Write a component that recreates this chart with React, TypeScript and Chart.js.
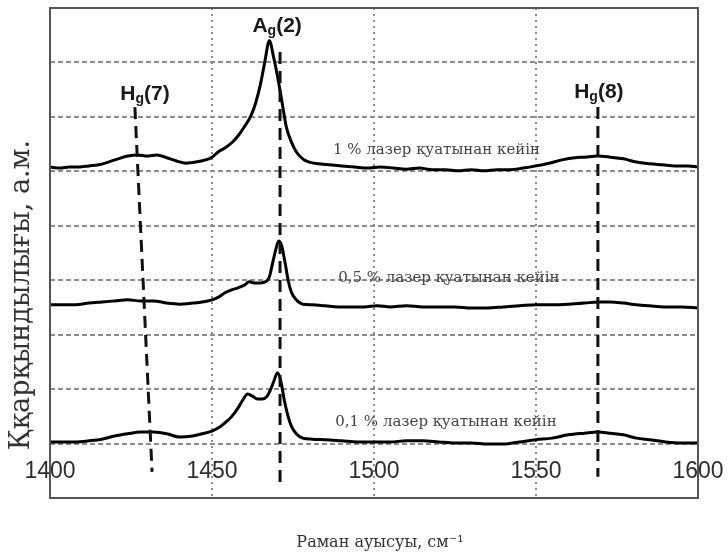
import React, { useEffect, useRef } from 'react';
import { Chart, registerables } from 'chart.js';

Chart.register(...registerables);

// ---- data ----
const xTicks = [1400, 1450, 1500, 1550, 1600];
const xTickLabels = ['1400', '1450', '1500', '1550', '1600'];

// 1 % laser power spectrum
const topX = [1400, 1403, 1406, 1409, 1412, 1415, 1418, 1421, 1424, 1427, 1430, 1433, 1436, 1439, 1442, 1445, 1448, 1450, 1452, 1454, 1456, 1458, 1460, 1462, 1463.5, 1465, 1466.3, 1467.7, 1469, 1470.3, 1471.5, 1473, 1474.5, 1476, 1478, 1480, 1483, 1486, 1490, 1494, 1498, 1502, 1506, 1510, 1514, 1518, 1522, 1526, 1530, 1534, 1538, 1542, 1546, 1550, 1554, 1558, 1562, 1565, 1569, 1573, 1577, 1581, 1585, 1589, 1593, 1597, 1600];
const topY = [6.08, 6.06, 6.08, 6.08, 6.10, 6.12, 6.17, 6.23, 6.28, 6.30, 6.28, 6.30, 6.25, 6.19, 6.15, 6.17, 6.21, 6.26, 6.36, 6.43, 6.52, 6.65, 6.82, 7.02, 7.26, 7.61, 8.01, 8.40, 8.10, 7.72, 7.31, 6.80, 6.54, 6.36, 6.23, 6.17, 6.14, 6.12, 6.10, 6.08, 6.06, 6.08, 6.06, 6.04, 6.06, 6.03, 6.03, 6.01, 6.03, 6.01, 6.03, 6.03, 6.06, 6.10, 6.15, 6.21, 6.25, 6.26, 6.28, 6.26, 6.23, 6.17, 6.14, 6.12, 6.10, 6.10, 6.08];

// 0,5 % laser power spectrum
const midX = [1400, 1404, 1408, 1412, 1416, 1420, 1424, 1428, 1432, 1436, 1440, 1444, 1447, 1450, 1452, 1454, 1456, 1458, 1460, 1461.5, 1463, 1465, 1466.5, 1467.7, 1468.8, 1469.8, 1470.6, 1471.5, 1472.5, 1473.5, 1474.5, 1476, 1478, 1481, 1485, 1489, 1493, 1497, 1501, 1505, 1510, 1515, 1520, 1525, 1530, 1535, 1540, 1545, 1550, 1555, 1560, 1565, 1569, 1573, 1577, 1581, 1585, 1590, 1595, 1600];
const midY = [3.55, 3.55, 3.55, 3.58, 3.60, 3.62, 3.64, 3.62, 3.62, 3.58, 3.56, 3.58, 3.60, 3.64, 3.69, 3.77, 3.82, 3.86, 3.91, 3.97, 3.95, 3.95, 3.97, 4.06, 4.34, 4.59, 4.72, 4.63, 4.34, 4.00, 3.78, 3.64, 3.56, 3.55, 3.53, 3.51, 3.51, 3.51, 3.53, 3.51, 3.53, 3.51, 3.51, 3.51, 3.49, 3.49, 3.51, 3.53, 3.55, 3.55, 3.56, 3.58, 3.60, 3.60, 3.58, 3.55, 3.53, 3.51, 3.51, 3.49];

// 0,1 % laser power spectrum
const lowX = [1400, 1404, 1408, 1412, 1416, 1420, 1424, 1428, 1432, 1436, 1440, 1444, 1447, 1450, 1452, 1454, 1456, 1458, 1459.5, 1461, 1462.5, 1464, 1465.5, 1467, 1468, 1469, 1470.2, 1471.3, 1472.3, 1473.3, 1474.5, 1476, 1478, 1481, 1485, 1490, 1495, 1500, 1505, 1510, 1515, 1520, 1525, 1530, 1535, 1540, 1545, 1550, 1555, 1560, 1565, 1569, 1573, 1577, 1581, 1585, 1590, 1595, 1600];
const lowY = [1.03, 1.03, 1.03, 1.05, 1.08, 1.14, 1.18, 1.21, 1.21, 1.18, 1.12, 1.14, 1.18, 1.23, 1.29, 1.38, 1.49, 1.65, 1.80, 1.91, 1.87, 1.82, 1.82, 1.87, 1.98, 2.13, 2.30, 2.13, 1.80, 1.54, 1.32, 1.18, 1.10, 1.08, 1.07, 1.05, 1.03, 1.03, 1.03, 1.05, 1.05, 1.03, 1.01, 1.01, 0.99, 0.99, 1.03, 1.07, 1.10, 1.16, 1.19, 1.21, 1.19, 1.16, 1.10, 1.07, 1.03, 1.01, 1.01];

// dashed mode markers
const hg7LineX = [1426.2, 1431.5];
const hg7LineY = [7.18, 0.48];
const ag2LineX = [1471.0, 1471.0];
const ag2LineY = [8.19, 0.29];
const hg8LineX = [1569.1, 1569.1];
const hg8LineY = [7.18, 0.39];

// text
const curveLabels = ['1 % лазер қуатынан кейін', '0,5 % лазер қуатынан кейін', '0,1 % лазер қуатынан кейін'];
const curveLabelX = [1519.3, 1523.1, 1522.2];
const curveLabelY = [6.39, 4.04, 1.40];

const peakNames = ['H', 'A', 'H'];
const peakSubs = ['g', 'g', 'g'];
const peakOrders = ['(7)', '(2)', '(8)'];
const peakLabelX = [1429.3, 1470.1, 1569.4];
const peakLabelY = [7.31, 8.56, 7.35];

const xTitle = 'Раман ауысуы, см⁻¹';
const yTitle = 'Ққарқындылығы, а.м.';

const pts = (xs: number[], ys: number[]) => xs.map((x, i) => ({ x, y: ys[i] }));

const decor = {
  id: 'decor',
  afterDatasetsDraw(chart: any) {
    const { ctx, chartArea: ca, scales } = chart;
    const x = scales.x;
    const y = scales.y;
    ctx.save();
    // frame
    ctx.setLineDash([]);
    ctx.strokeStyle = '#555';
    ctx.lineWidth = 2;
    ctx.strokeRect(ca.left, ca.top, ca.right - ca.left, ca.bottom - ca.top);

    // tick labels (inside the plot)
    ctx.font = '23px "Liberation Sans", Arial, sans-serif';
    ctx.fillStyle = '#2e2e2e';
    ctx.textAlign = 'center';
    ctx.textBaseline = 'middle';
    xTicks.forEach((v, i) => {
      ctx.fillText(xTickLabels[i], x.getPixelForValue(v), ca.bottom - 26);
    });

    // curve labels
    ctx.font = '15px "DejaVu Serif", serif';
    ctx.fillStyle = '#444';
    curveLabels.forEach((t, i) => {
      ctx.fillText(t, x.getPixelForValue(curveLabelX[i]), y.getPixelForValue(curveLabelY[i]));
    });

    // peak labels
    const mainFont = 'bold 21px "Liberation Sans", Arial, sans-serif';
    const subFont = 'bold 14px "Liberation Sans", Arial, sans-serif';
    ctx.fillStyle = '#1a1a1a';
    ctx.textAlign = 'left';
    ctx.textBaseline = 'alphabetic';
    peakNames.forEach((n, i) => {
      ctx.font = mainFont;
      const w1 = ctx.measureText(n).width;
      const w3 = ctx.measureText(peakOrders[i]).width;
      ctx.font = subFont;
      const w2 = ctx.measureText(peakSubs[i]).width;
      let px = x.getPixelForValue(peakLabelX[i]) - (w1 + w2 + w3) / 2;
      const py = y.getPixelForValue(peakLabelY[i]);
      ctx.font = mainFont;
      ctx.fillText(n, px, py);
      px += w1;
      ctx.font = subFont;
      ctx.fillText(peakSubs[i], px, py + 3);
      px += w2;
      ctx.font = mainFont;
      ctx.fillText(peakOrders[i], px, py);
    });

    // axis titles
    ctx.fillStyle = '#333';
    ctx.textAlign = 'center';
    ctx.textBaseline = 'middle';
    ctx.font = '16px "DejaVu Serif", serif';
    ctx.fillText(xTitle, (ca.left + ca.right) / 2 + 6, ca.bottom + 45);

    ctx.translate(22, (ca.top + ca.bottom) / 2 + 42);
    ctx.rotate(-Math.PI / 2);
    ctx.font = '27px "DejaVu Serif", serif';
    ctx.fillText(yTitle, 0, 0);
    ctx.restore();
  },
};

export default function App() {
  const ref = useRef<HTMLCanvasElement | null>(null);
  useEffect(() => {
    if (!ref.current) return;
    const lineDs = (xs: number[], ys: number[]) => ({
      data: pts(xs, ys),
      borderColor: '#000',
      borderWidth: 3,
      pointRadius: 0,
      fill: false,
      cubicInterpolationMode: 'monotone' as const,
    });
    const dashDs = (xs: number[], ys: number[]) => ({
      data: pts(xs, ys),
      borderColor: '#111',
      borderWidth: 3,
      borderDash: [12, 7],
      pointRadius: 0,
      fill: false,
    });
    const chart = new Chart(ref.current, {
      type: 'line',
      data: {
        datasets: [
          dashDs(hg7LineX, hg7LineY),
          dashDs(ag2LineX, ag2LineY),
          dashDs(hg8LineX, hg8LineY),
          lineDs(topX, topY),
          lineDs(midX, midY),
          lineDs(lowX, lowY),
        ],
      },
      options: {
        animation: false,
        responsive: false,
        devicePixelRatio: 1,
        layout: { padding: { left: 50, top: 8, right: 30, bottom: 60 } },
        plugins: { legend: { display: false }, tooltip: { enabled: false } },
        scales: {
          x: {
            type: 'linear',
            min: 1400,
            max: 1600,
            ticks: { stepSize: 50, display: false },
            grid: { color: '#8c8c8c', lineWidth: 2, drawTicks: false },
            border: { display: false, dash: [2, 4] },
          },
          y: {
            type: 'linear',
            min: 0,
            max: 9,
            ticks: { stepSize: 1, display: false },
            grid: { color: '#8c8c8c', lineWidth: 2, drawTicks: false },
            border: { display: false, dash: [5, 3] },
          },
        },
      },
      plugins: [decor],
    });
    return () => chart.destroy();
  }, []);
  return (
    <div style={{ position: 'fixed', left: 0, top: 0, width: 728, height: 558, background: '#fff' }}>
      <canvas ref={ref} width={728} height={558} style={{ display: 'block' }} />
    </div>
  );
}
